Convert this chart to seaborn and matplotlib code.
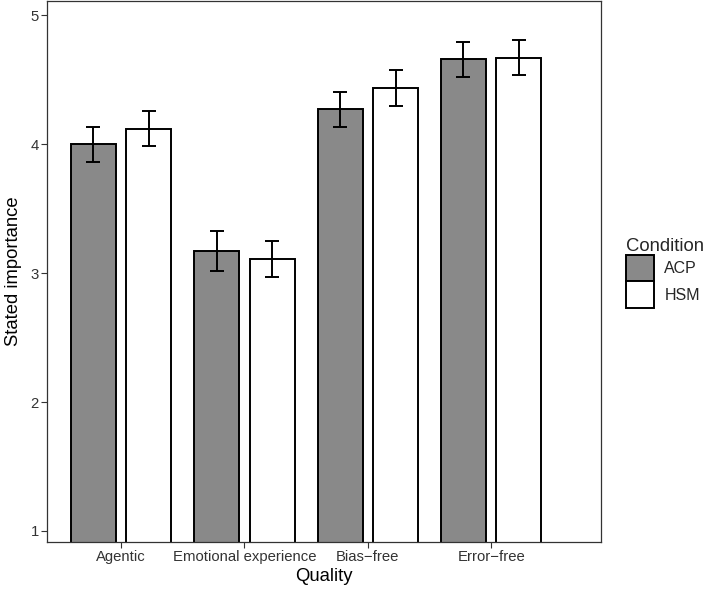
import pandas as pd
import seaborn as sns
import matplotlib.pyplot as plt
from matplotlib.patches import Patch

# 数据
qualities = ['Agentic', 'Emotional experience', 'Bias\u2212free', 'Error\u2212free']
conditions = ['ACP', 'HSM']
acp_mean = [4.00, 3.17, 4.27, 4.66]
hsm_mean = [4.12, 3.11, 4.44, 4.67]
acp_err = [0.135, 0.155, 0.135, 0.135]
hsm_err = [0.135, 0.14, 0.14, 0.135]

df = pd.DataFrame({
    'Quality': qualities * 2,
    'Condition': ['ACP'] * 4 + ['HSM'] * 4,
    'mean': acp_mean + hsm_mean,
    'err': acp_err + hsm_err,
})

sns.set_style('white')
plt.rcParams['font.family'] = ['Liberation Sans', 'DejaVu Sans']

fig = plt.figure(figsize=(7.05, 5.91), dpi=100)
ax = fig.add_axes([0.0667, 0.083, 0.7858, 0.915])

palette = {'ACP': '#898989', 'HSM': '#ffffff'}
sns.barplot(data=df, x='Quality', y='mean', hue='Condition', order=qualities,
            hue_order=conditions, palette=palette, width=0.9, gap=0.19,
            errorbar=None, edgecolor='black', linewidth=1.4, legend=False, ax=ax)

# 误差线
for i, cond in enumerate(conditions):
    sub = df[df['Condition'] == cond].set_index('Quality').loc[qualities]
    bars = ax.containers[i]
    xs = [b.get_x() + b.get_width() / 2 for b in bars]
    ax.errorbar(xs, sub['mean'], yerr=sub['err'], fmt='none', ecolor='black',
                elinewidth=1.4, capsize=5, capthick=1.4, zorder=5)

ax.set_ylim(0.915, 5.11)
ax.set_xlim(-0.6, 3.89)
ax.set_yticks([1, 2, 3, 4, 5])
ax.tick_params(axis='both', direction='out', length=4, width=0.8, color='#333333',
               labelsize=10.7, labelcolor='#333333', left=True, bottom=True, pad=2)
ax.set_xlabel('Quality', fontsize=13.3, color='black', labelpad=3)
ax.set_ylabel('Stated importance', fontsize=13.3, color='black', labelpad=6)
for s in ax.spines.values():
    s.set_color('#333333')
    s.set_linewidth(0.9)

handles = [Patch(facecolor=palette[c], edgecolor='black', linewidth=1.4, label=c) for c in conditions]
leg = fig.legend(handles=handles, title='Condition', loc='upper left',
                 bbox_to_anchor=(0.888, 0.598), frameon=False, fontsize=11.5,
                 title_fontsize=13.3, handlelength=1.75, handleheight=2.2,
                 handletextpad=0.65, labelspacing=0.0, borderaxespad=0,
                 borderpad=0)
leg._legend_box.align = 'left'

fig.savefig('out.png', dpi=100)
